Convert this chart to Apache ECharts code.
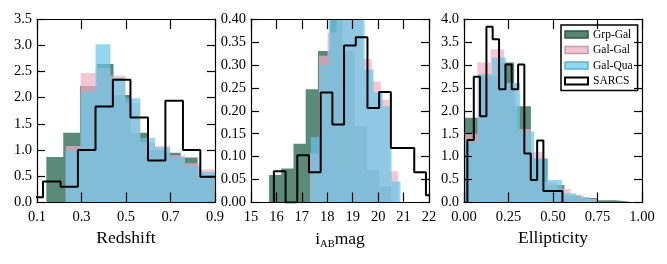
<!DOCTYPE html>
<html>
<head>
<meta charset="utf-8">
<script src="https://cdn.jsdelivr.net/npm/echarts@6/dist/echarts.min.js"></script>
<style>
html,body{margin:0;padding:0;background:#fff;}
#c{width:667px;height:264px;}
</style>
</head>
<body>
<div id="c"></div>
<script>
// ---------- Panel 1: Redshift ----------
const zGrpEdges   = [0.142, 0.218, 0.293, 0.369, 0.444, 0.520, 0.595, 0.671, 0.746, 0.822, 0.897];
const zGrpVals    = [0.87, 1.33, 2.22, 2.64, 2.05, 1.33, 1.00, 0.95, 0.86, 0.50];
const zGalEdges   = [0.229, 0.296, 0.363, 0.430, 0.497, 0.564, 0.631, 0.698, 0.765, 0.832, 0.899];
const zGalVals    = [1.08, 2.47, 2.56, 2.42, 1.90, 1.15, 1.08, 0.90, 0.75, 0.63];
const zQuaEdges   = [0.229, 0.296, 0.363, 0.430, 0.497, 0.564, 0.631, 0.698, 0.765, 0.832, 0.899];
const zQuaVals    = [0.99, 2.11, 3.02, 2.38, 1.99, 1.23, 1.05, 0.87, 0.70, 0.58];
const zSarcsEdges = [0.048, 0.127, 0.206, 0.284, 0.363, 0.441, 0.520, 0.599, 0.677, 0.756, 0.834, 0.913];
const zSarcsVals  = [0.10, 0.40, 0.30, 1.00, 1.83, 2.34, 1.62, 0.80, 1.94, 1.00, 0.49];

// ---------- Panel 2: i_AB mag ----------
const mGrpEdges   = [15.71, 16.19, 16.67, 17.15, 17.63, 18.12, 18.60, 19.08, 19.56, 20.04, 20.52];
const mGrpVals    = [0.060, 0.074, 0.128, 0.247, 0.330, 0.430, 0.330, 0.166, 0.071, 0.035];
const mGalEdges   = [17.32, 17.67, 18.01, 18.36, 18.71, 19.06, 19.40, 19.75, 20.10, 20.44, 20.79];
const mGalVals    = [0.107, 0.320, 0.370, 0.420, 0.420, 0.400, 0.313, 0.264, 0.224, 0.068];
const mQuaEdges   = [17.35, 17.70, 18.06, 18.41, 18.76, 19.12, 19.47, 19.82, 20.18, 20.53, 20.88];
const mQuaVals    = [0.142, 0.300, 0.420, 0.450, 0.420, 0.400, 0.290, 0.240, 0.210, 0.046];
const mSarcsEdges = [15.90, 16.36, 16.82, 17.28, 17.74, 18.20, 18.66, 19.12, 19.58, 20.04, 20.50, 20.96, 21.42, 21.88, 22.34];
const mSarcsVals  = [0.068, 0.000, 0.103, 0.066, 0.240, 0.170, 0.342, 0.360, 0.206, 0.241, 0.119, 0.119, 0.066, 0.016];

// ---------- Panel 3: Ellipticity ----------
const eGrpEdges   = [0, 0.094, 0.188, 0.282, 0.376, 0.470, 0.564, 0.658, 0.752, 0.846, 0.940];
const eGrpVals    = [1.85, 2.75, 3.05, 2.10, 0.96, 0.38, 0.15, 0.10, 0.05, 0.02];
const eGalEdges   = [0, 0.075, 0.150, 0.225, 0.300, 0.375, 0.450, 0.525, 0.600, 0.675, 0.750];
const eGalVals    = [1.50, 3.05, 3.34, 2.60, 1.60, 1.10, 0.45, 0.30, 0.15, 0.08];
const eQuaEdges   = [0, 0.0787, 0.157, 0.236, 0.315, 0.394, 0.472, 0.551, 0.630, 0.709, 0.787];
const eQuaVals    = [1.32, 2.80, 3.16, 2.60, 1.55, 0.95, 0.49, 0.20, 0.12, 0.04];
const eSarcsEdges = [0.019, 0.055, 0.090, 0.126, 0.161, 0.197, 0.233, 0.268, 0.304, 0.339, 0.375, 0.411, 0.446, 0.482, 0.518, 0.553];
const eSarcsVals  = [1.36, 2.74, 1.88, 3.83, 3.56, 2.47, 3.01, 2.47, 3.01, 1.07, 0.49, 1.35, 0.25, 0.25, 0.25];

const seriesNames = ['Grp-Gal', 'Gal-Gal', 'Gal-Qua', 'SARCS'];
const xTitles = ['Redshift', '{i|i}{s|AB}{i|mag}', 'Ellipticity'];

const FONT = "'Liberation Serif', 'Times New Roman', serif";
const FILL = ['rgba(21,88,62,0.7)', 'rgba(241,174,197,0.7)', 'rgba(101,199,232,0.7)'];

const panels = [
  { hists: [[zGrpEdges, zGrpVals], [zGalEdges, zGalVals], [zQuaEdges, zQuaVals], [zSarcsEdges, zSarcsVals]],
    xMin: 0.1, xMax: 0.9, xInt: 0.2, xDec: 1, yMax: 3.5, yInt: 0.5, yDec: 1, left: 37 },
  { hists: [[mGrpEdges, mGrpVals], [mGalEdges, mGalVals], [mQuaEdges, mQuaVals], [mSarcsEdges, mSarcsVals]],
    xMin: 15, xMax: 22, xInt: 1, xDec: 0, yMax: 0.40, yInt: 0.05, yDec: 2, left: 251 },
  { hists: [[eGrpEdges, eGrpVals], [eGalEdges, eGalVals], [eQuaEdges, eQuaVals], [eSarcsEdges, eSarcsVals]],
    xMin: 0, xMax: 1, xInt: 0.25, xDec: 2, yMax: 4.0, yInt: 0.5, yDec: 1, left: 464 }
];

function stepPoints(edges, vals) {
  const pts = [[edges[0], 0]];
  for (let i = 0; i < vals.length; i++) pts.push([edges[i], vals[i]]);
  pts.push([edges[edges.length - 1], 0]);
  return pts;
}

const LINE = { color: '#000', width: 1.2 };
const grid = [], xAxis = [], yAxis = [], series = [];

panels.forEach((p, i) => {
  grid.push({ left: p.left, top: 19, width: 178, height: 183.5 });
  const xBase = {
    gridIndex: i, type: 'value', min: p.xMin, max: p.xMax, interval: p.xInt,
    axisLine: { show: true, onZero: false, lineStyle: LINE },
    axisTick: { show: true, inside: true, length: 10, lineStyle: LINE },
    splitLine: { show: false }, z: 10
  };
  xAxis.push(Object.assign({}, xBase, {
    position: 'bottom',
    axisLabel: { show: true, margin: 7, fontFamily: FONT, fontSize: 14.5, color: '#000',
      formatter: v => Number(v).toFixed(p.xDec) },
    name: xTitles[i], nameLocation: 'middle', nameGap: 27,
    nameTextStyle: { fontFamily: FONT, fontSize: 17.5, color: '#000',
      rich: {
        i: { fontFamily: FONT, fontSize: 17.5, color: '#000', lineHeight: 20 },
        s: { fontFamily: FONT, fontSize: 10.5, color: '#000', lineHeight: 11, verticalAlign: 'bottom' }
      } }
  }));
  xAxis.push(Object.assign({}, xBase, { position: 'top', axisLabel: { show: false } }));
  const yBase = {
    gridIndex: i, type: 'value', min: 0, max: p.yMax, interval: p.yInt,
    axisLine: { show: true, onZero: false, lineStyle: LINE },
    axisTick: { show: true, inside: true, length: 8, lineStyle: LINE },
    splitLine: { show: false }, z: 10
  };
  yAxis.push(Object.assign({}, yBase, {
    position: 'left',
    axisLabel: { show: true, margin: 5, fontFamily: FONT, fontSize: 14.5, color: '#000',
      formatter: v => Number(v).toFixed(p.yDec) }
  }));
  yAxis.push(Object.assign({}, yBase, { position: 'right', axisLabel: { show: false } }));

  p.hists.forEach((h, k) => {
    const s = {
      name: seriesNames[k], type: 'line', step: 'end',
      xAxisIndex: 2 * i, yAxisIndex: 2 * i,
      data: stepPoints(h[0], h[1]),
      symbol: 'none', clip: true, silent: true, animation: false,
      z: 2 + k
    };
    if (k < 3) {
      s.lineStyle = { width: 0 };
      s.areaStyle = { color: FILL[k], opacity: 1 };
      s.itemStyle = { color: FILL[k] };
    } else {
      s.lineStyle = { width: 2, color: '#000' };
      s.itemStyle = { color: '#000' };
    }
    series.push(s);
  });
});

const legend = {
  left: 561, top: 25, orient: 'vertical',
  itemWidth: 23, itemHeight: 7, itemGap: 2.5,
  padding: [3, 5, 3, 3],
  backgroundColor: '#fff', borderColor: '#000', borderWidth: 1.5, borderRadius: 0,
  selectedMode: false,
  textStyle: { fontFamily: FONT, fontSize: 11.5, color: '#000', lineHeight: 13 },
  data: [
    { name: 'Grp-Gal', icon: 'rect', itemStyle: { color: '#56866f', borderColor: '#2c5a45', borderWidth: 1.5 } },
    { name: 'Gal-Gal', icon: 'rect', itemStyle: { color: '#f4c3d3', borderColor: '#c99aaa', borderWidth: 1.5 } },
    { name: 'Gal-Qua', icon: 'rect', itemStyle: { color: '#8fd6ef', borderColor: '#5fb3cf', borderWidth: 1.5 } },
    { name: 'SARCS',   icon: 'rect', itemStyle: { color: '#ffffff', borderColor: '#000000', borderWidth: 2 } }
  ]
};

const chart = echarts.init(document.getElementById('c'), null, { renderer: 'canvas' });
chart.setOption({
  animation: false,
  backgroundColor: '#fff',
  grid, xAxis, yAxis, series, legend
});
</script>
</body>
</html>
